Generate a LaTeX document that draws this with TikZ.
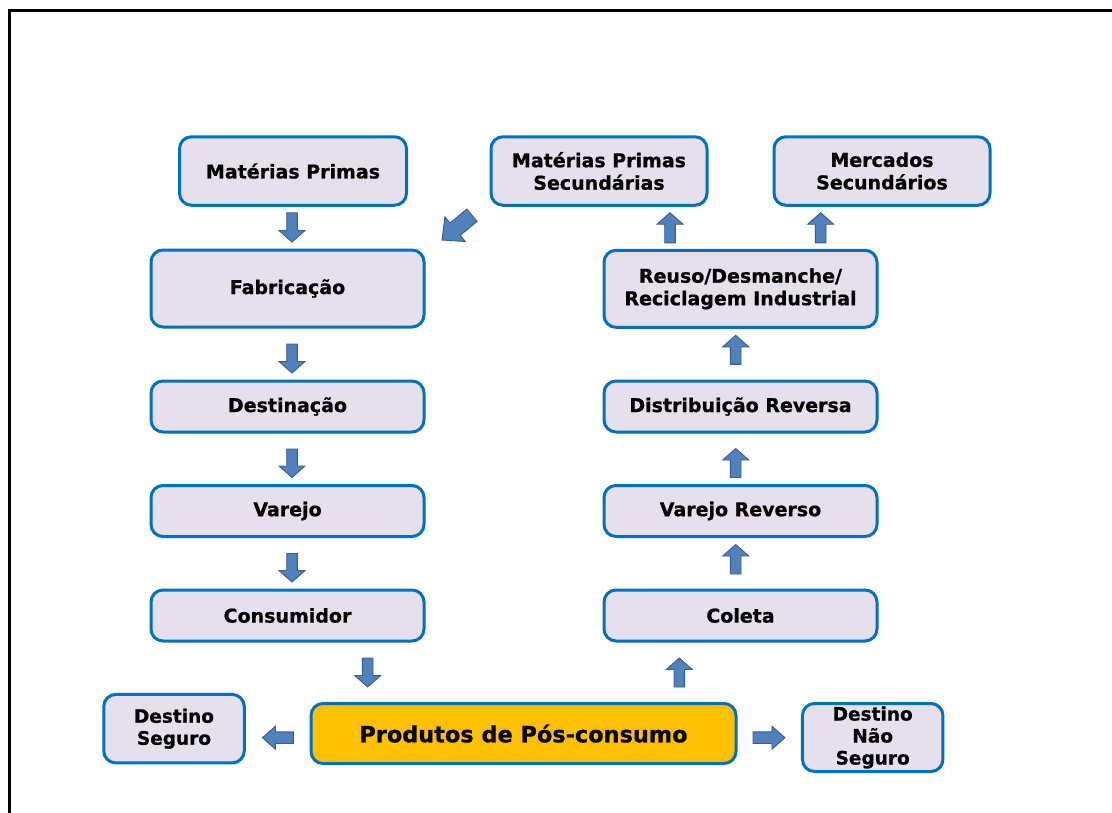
\documentclass[tikz,border=0pt]{standalone}
\usepackage{fontspec}
\setmainfont{DejaVu Sans}[BoldFeatures={FakeBold=0.8}]
\usetikzlibrary{calc}
\definecolor{boxblue}{HTML}{0070C0}
\definecolor{lav}{HTML}{E5E0EC}
\definecolor{gold}{HTML}{FFC000}
\definecolor{arrfill}{HTML}{4F81BD}
\definecolor{arrline}{HTML}{385D8A}
\tikzset{
  box/.style={draw=boxblue, line width=3pt, fill=lav, rounded corners=12pt,
    align=center, inner sep=0pt, outer sep=0pt,
    font=\bfseries\fontsize{19}{22.5}\selectfont},
  barrowstyle/.style={fill=arrfill, draw=arrline, line width=0.9pt, line join=miter}
}
\newcommand\blockarrow[5]{%
  \coordinate (bt) at #1; \coordinate (bp) at #2;
  \coordinate (bh) at ($(bp)!#5!(bt)$);
  \draw[barrowstyle] ($(bt)!#3!90:(bp)$) -- ($(bh)!#3!90:(bp)$) -- ($(bh)!#4!90:(bp)$)
    -- (bp) -- ($(bh)!#4!-90:(bp)$) -- ($(bh)!#3!-90:(bp)$) -- ($(bt)!#3!-90:(bp)$) -- cycle;}
\newcommand\varrow[2]{\blockarrow{#1}{#2}{5.3pt}{13pt}{11.5pt}}
\newcommand\harrow[2]{\blockarrow{#1}{#2}{5.8pt}{11.5pt}{13pt}}
\begin{document}
\begin{tikzpicture}[x=1pt,y=-1pt]
\useasboundingbox (0,0) rectangle (1112,812);
\begin{scope}
\clip (0,0) rectangle (1112,812);
\draw[line width=3pt] (9,10.5) rectangle (1140,840);
\end{scope}
% left column
\node[box, minimum width=227pt, minimum height=68.5pt] (mp) at (293,171) {Matérias Primas};
\node[box, minimum width=273pt, minimum height=77pt] (fab) at (287.5,288.5) {Fabricação};
\node[box, minimum width=273pt, minimum height=51pt] (dest) at (287.5,406.5) {Destinação};
\node[box, minimum width=273pt, minimum height=51pt] (var) at (287.5,511) {Varejo};
\node[box, minimum width=273pt, minimum height=51pt] (cons) at (287.5,615.5) {Consumidor};
% right column
\node[box, minimum width=216pt, minimum height=68.5pt] (mps) at (599,171) {Matérias Primas\\Secundárias};
\node[box, minimum width=216pt, minimum height=68.5pt] (merc) at (882,171) {Mercados\\Secundários};
\node[box, minimum width=273pt, minimum height=77pt] (reuso) at (740.5,288.8) {Reuso/Desmanche/\\Reciclagem Industrial};
\node[box, minimum width=273pt, minimum height=51pt] (dist) at (740.5,406.5) {Distribuição Reversa};
\node[box, minimum width=273pt, minimum height=51pt] (varr) at (740.5,511) {Varejo Reverso};
\node[box, minimum width=273pt, minimum height=51pt] (col) at (740.5,615.5) {Coleta};
% bottom row
\node[box, fill=gold, minimum width=425pt, minimum height=60pt,
  font=\bfseries\fontsize{22.4}{26}\selectfont] (prod) at (523.5,733.5) {Produtos de Pós-consumo};
\node[box, minimum width=140.5pt, minimum height=68.5pt, font=\bfseries\fontsize{18.5}{22}\selectfont] (ds) at (174,728.7) {Destino\\Seguro};
\node[box, minimum width=140.5pt, minimum height=68pt, font=\bfseries\fontsize{18.5}{22}\selectfont] (dns) at (872.7,737.5) {Destino\\Não\\Seguro};
% arrows
\varrow{($(mp.south)+(-1,7.5)$)}{($(fab.north)+(4.5,-8)$)}
\varrow{($(fab.south)+(4.5,17)$)}{($(dest.north)+(4.5,-8)$)}
\varrow{($(dest.south)+(4.5,17)$)}{($(var.north)+(4.5,-8)$)}
\varrow{($(var.south)+(4.5,17)$)}{($(cons.north)+(4.5,-8)$)}
\varrow{($(cons.south)+(80.2,17)$)}{($(prod.north)+(-155.8,-16.5)$)}
\varrow{($(prod.north)+(155.8,-16.5)$)}{($(col.south)+(-61.2,17)$)}
\varrow{($(col.north)+(-4.8,-16)$)}{($(varr.south)+(-4.8,8)$)}
\varrow{($(varr.north)+(-4.8,-8)$)}{($(dist.south)+(-4.8,16.5)$)}
\varrow{($(dist.north)+(-4.8,-16.7)$)}{($(reuso.south)+(-4.8,8)$)}
\varrow{($(reuso.north)+(-70.5,-7.5)$)}{($(mps.south)+(71,7.5)$)}
\varrow{($(reuso.north)+(80.2,-7.5)$)}{($(merc.south)+(-61.3,7.5)$)}
\blockarrow{($(mps.south west)+(-19,10)$)}{($(fab.north east)+(18,-10)$)}{8pt}{16pt}{17pt}
\harrow{($(prod.west)+(-17.7,4.2)$)}{($(ds.east)+(18.2,9)$)}
\harrow{($(prod.east)+(17,4.2)$)}{($(dns.west)+(-17.5,0.2)$)}
\end{tikzpicture}
\end{document}
